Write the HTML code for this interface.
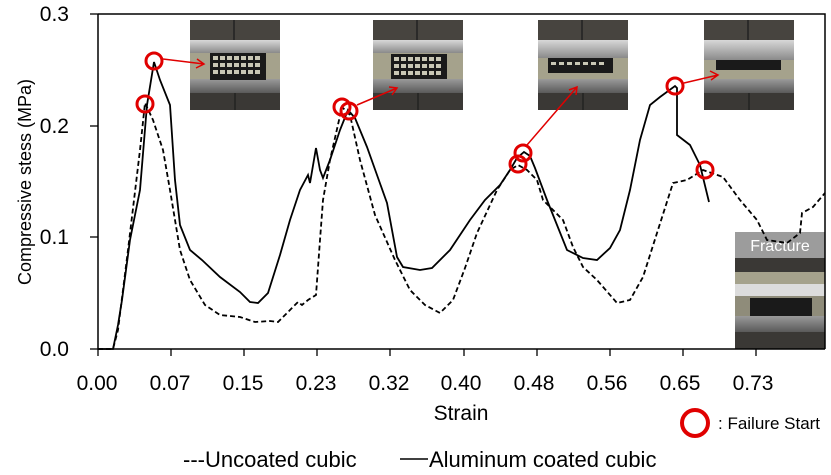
<!DOCTYPE html>
<html><head><meta charset="utf-8"><style>
html,body{margin:0;padding:0;background:#fff;}
svg{display:block;font-family:"Liberation Sans","DejaVu Sans",sans-serif;}
</style></head><body>
<svg width="831" height="475" viewBox="0 0 831 475" xmlns="http://www.w3.org/2000/svg">
<defs>
<linearGradient id="pl" x1="0" y1="0" x2="0" y2="1"><stop offset="0" stop-color="#d8d8d8"/><stop offset="1" stop-color="#8a8a8a"/></linearGradient>
<linearGradient id="pl2" x1="0" y1="0" x2="0" y2="1"><stop offset="0" stop-color="#9a9a9a"/><stop offset="1" stop-color="#5a5a5a"/></linearGradient>
<g id="photo">
<rect x="0" y="0" width="90" height="90" fill="#3c3a37"/>
<rect x="0" y="0" width="90" height="20" fill="#47443f"/>
<line x1="44" y1="0" x2="44" y2="20" stroke="#222" stroke-width="1.5"/>
<rect x="0" y="20" width="90" height="13" fill="url(#pl)"/>
<rect x="0" y="33" width="90" height="26" fill="#a5a28c"/>
<rect x="0" y="59" width="90" height="14" fill="url(#pl2)"/>
<rect x="0" y="73" width="90" height="17" fill="#3a3835"/>
<line x1="45" y1="73" x2="45" y2="90" stroke="#222" stroke-width="1.5"/>
</g>
</defs>
<g transform="translate(190,20)"><use href="#photo"/>
<rect x="20" y="33" width="56" height="27" fill="#1a1a1a"/>
<g fill="#c9c7b5"><rect x="23" y="36" width="5" height="4"/><rect x="30" y="36" width="5" height="4"/><rect x="37" y="36" width="5" height="4"/><rect x="44" y="36" width="5" height="4"/><rect x="51" y="36" width="5" height="4"/><rect x="58" y="36" width="5" height="4"/><rect x="65" y="36" width="5" height="4"/>
<rect x="23" y="43" width="5" height="4"/><rect x="30" y="43" width="5" height="4"/><rect x="37" y="43" width="5" height="4"/><rect x="44" y="43" width="5" height="4"/><rect x="51" y="43" width="5" height="4"/><rect x="58" y="43" width="5" height="4"/><rect x="65" y="43" width="5" height="4"/>
<rect x="23" y="50" width="5" height="4"/><rect x="30" y="50" width="5" height="4"/><rect x="37" y="50" width="5" height="4"/><rect x="44" y="50" width="5" height="4"/><rect x="51" y="50" width="5" height="4"/><rect x="58" y="50" width="5" height="4"/><rect x="65" y="50" width="5" height="4"/></g></g>
<g transform="translate(373,20)"><use href="#photo"/>
<rect x="18" y="34" width="56" height="25" fill="#1a1a1a"/>
<g fill="#c9c7b5"><rect x="21" y="37" width="5" height="4"/><rect x="28" y="37" width="5" height="4"/><rect x="35" y="37" width="5" height="4"/><rect x="42" y="37" width="5" height="4"/><rect x="49" y="37" width="5" height="4"/><rect x="56" y="37" width="5" height="4"/><rect x="63" y="37" width="5" height="4"/>
<rect x="21" y="44" width="5" height="4"/><rect x="28" y="44" width="5" height="4"/><rect x="35" y="44" width="5" height="4"/><rect x="42" y="44" width="5" height="4"/><rect x="49" y="44" width="5" height="4"/><rect x="56" y="44" width="5" height="4"/><rect x="63" y="44" width="5" height="4"/>
<rect x="21" y="51" width="5" height="4"/><rect x="28" y="51" width="5" height="4"/><rect x="35" y="51" width="5" height="4"/><rect x="42" y="51" width="5" height="4"/><rect x="49" y="51" width="5" height="4"/><rect x="56" y="51" width="5" height="4"/><rect x="63" y="51" width="5" height="4"/></g></g>
<g transform="translate(538,20)"><use href="#photo"/>
<rect x="0" y="20" width="90" height="18" fill="url(#pl)"/>
<rect x="10" y="38" width="65" height="15" fill="#1a1a1a"/>
<g fill="#c9c7b5"><rect x="13" y="42" width="5" height="3"/><rect x="21" y="42" width="5" height="3"/><rect x="29" y="42" width="5" height="3"/><rect x="37" y="42" width="5" height="3"/><rect x="45" y="42" width="5" height="3"/><rect x="53" y="42" width="5" height="3"/><rect x="61" y="42" width="5" height="3"/></g></g>
<g transform="translate(704,20)"><use href="#photo"/>
<rect x="0" y="20" width="90" height="20" fill="url(#pl)"/>
<rect x="12" y="40" width="65" height="10" fill="#1a1a1a"/></g>
<g transform="translate(735,232)">
<rect x="0" y="0" width="90" height="117" fill="#3a3835"/>
<rect x="0" y="0" width="90" height="26" fill="#9c9c9c"/>
<rect x="0" y="40" width="90" height="14" fill="#a5a28c"/>
<rect x="0" y="52" width="90" height="12" fill="#dcdcdc"/>
<rect x="0" y="64" width="90" height="20" fill="#8f8c7a"/>
<rect x="15" y="66" width="62" height="18" fill="#1a1a1a"/>
<rect x="0" y="84" width="90" height="16" fill="url(#pl2)"/>
<text x="45" y="19" text-anchor="middle" font-size="16" fill="#fff">Fracture</text>
</g>
<path d="M98,14 H825 V349 M98,14 V349 H825" fill="none" stroke="#000" stroke-width="1.5"/>
<g stroke="#000" stroke-width="1.3">
<line x1="90" y1="14" x2="98" y2="14"/><line x1="90" y1="126" x2="98" y2="126"/><line x1="90" y1="237" x2="98" y2="237"/><line x1="90" y1="349" x2="98" y2="349"/>
<line x1="98" y1="349" x2="98" y2="356"/><line x1="171" y1="349" x2="171" y2="356"/><line x1="244" y1="349" x2="244" y2="356"/><line x1="317" y1="349" x2="317" y2="356"/><line x1="390" y1="349" x2="390" y2="356"/><line x1="464" y1="349" x2="464" y2="356"/><line x1="537" y1="349" x2="537" y2="356"/><line x1="610" y1="349" x2="610" y2="356"/><line x1="683" y1="349" x2="683" y2="356"/><line x1="756" y1="349" x2="756" y2="356"/>
</g>
<g font-size="21" fill="#000" text-anchor="end">
<text x="69" y="21">0.3</text><text x="69" y="133">0.2</text><text x="69" y="244">0.1</text><text x="69" y="356">0.0</text>
</g>
<g font-size="21" fill="#000" text-anchor="middle">
<text x="97" y="390">0.00</text><text x="170" y="390">0.07</text><text x="243" y="390">0.15</text><text x="316" y="390">0.23</text><text x="389" y="390">0.32</text><text x="461" y="390">0.40</text><text x="534" y="390">0.48</text><text x="607" y="390">0.56</text><text x="680" y="390">0.65</text><text x="753" y="390">0.73</text>
</g>
<text x="461" y="420" font-size="21" text-anchor="middle">Strain</text>
<text transform="translate(31,182) rotate(-90)" font-size="18" text-anchor="middle">Compressive stess (MPa)</text>
<polyline fill="none" stroke="#000" stroke-width="1.8" stroke-dasharray="5,3" points="98,349 113,349 118,330 128,250 140,150 145,103 153,120 163,150 170,190 180,250 190,280 205,305 220,315 240,317 255,322 270,321 278,322 290,310 298,302 302,305 308,300 316,295 320,240 323,200 330,160 342,107 350,115 360,160 375,215 395,260 410,290 425,305 440,313 453,300 465,268 477,233 497,190 510,170 518,165 527,170 537,180 543,200 563,220 573,247 583,267 597,280 617,303 630,300 643,277 657,233 673,183 687,180 703,170 723,177 740,200 757,220 767,240 787,243 800,233 802,213 813,207 825,193"/>
<polyline fill="none" stroke="#000" stroke-width="1.8" points="98,349 113,349 118,325 122,300 130,240 140,190 147,105 154,62 160,80 170,105 175,180 180,225 190,250 202,260 220,277 240,292 250,302 258,303 268,293 280,255 290,220 300,190 308,175 310,183 316,148 320,170 323,178 330,160 340,130 348,110 355,118 367,147 387,203 397,257 403,267 420,270 432,268 450,250 470,220 485,200 500,185 510,170 517,158 524,152 530,156 535,168 547,200 567,250 583,258 597,260 610,248 620,230 630,190 640,140 650,105 660,97 675,86 677,88 677,135 690,145 700,165 709,202"/>
<g fill="none" stroke="#e00000" stroke-width="3">
<circle cx="154" cy="61" r="8"/><circle cx="145" cy="104" r="8"/><circle cx="342" cy="107" r="8"/><circle cx="349" cy="111" r="8"/><circle cx="523" cy="153" r="8"/><circle cx="518" cy="164" r="8"/><circle cx="675" cy="86" r="8"/><circle cx="705" cy="170" r="8"/>
</g>
<g stroke="#e00000" stroke-width="1.5" fill="none">
<path d="M163,59 L204,64 M197,59 L204,64 L196,68"/>
<path d="M357,105 L397,88 M389,87 L397,88 L392,95"/>
<path d="M527,145 L577,87 M569,90 L577,87 L576,95"/>
<path d="M684,83 L718,75 M710,71 L718,75 L711,80"/>
</g>
<circle cx="695" cy="423" r="13" fill="none" stroke="#e00000" stroke-width="4"/>
<text x="718" y="429" font-size="17">: Failure Start</text>
<text x="183" y="467" font-size="22">---Uncoated cubic</text>
<line x1="400" y1="459" x2="428" y2="459" stroke="#000" stroke-width="1.6"/>
<text x="429" y="467" font-size="22">Aluminum coated cubic</text>
</svg>
</body></html>
